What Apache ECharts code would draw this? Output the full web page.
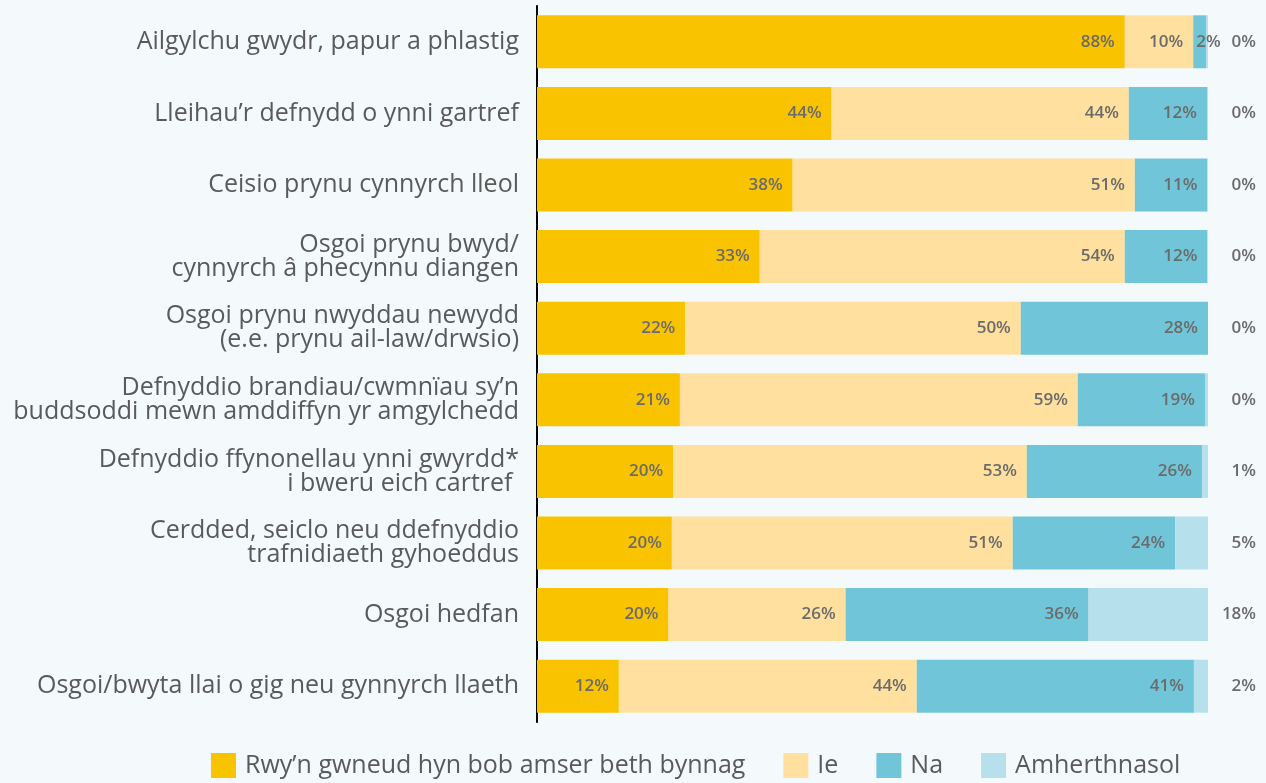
<!DOCTYPE html>
<html>
<head>
<meta charset="utf-8">
<script src="https://cdn.jsdelivr.net/npm/echarts@6/dist/echarts.min.js"></script>
<style>
  html, body { margin: 0; padding: 0; background: #f4f9fc; }
  #chart { width: 1266px; height: 783px; }
</style>
</head>
<body>
<div id="chart"></div>
<script>
const categories = [
  'Ailgylchu gwydr, papur a phlastig',
  'Lleihau’r defnydd o ynni gartref',
  'Ceisio prynu cynnyrch lleol',
  'Osgoi prynu bwyd/\ncynnyrch â phecynnu diangen',
  'Osgoi prynu nwyddau newydd\n(e.e. prynu ail-law/drwsio)',
  'Defnyddio brandiau/cwmnïau sy’n\nbuddsoddi mewn amddiffyn yr amgylchedd',
  'Defnyddio ffynonellau ynni gwyrdd*\ni bweru eich cartref ',
  'Cerdded, seiclo neu ddefnyddio\ntrafnidiaeth gyhoeddus',
  'Osgoi hedfan',
  'Osgoi/bwyta llai o gig neu gynnyrch llaeth'
]
const seriesNames = ['Rwy’n gwneud hyn bob amser beth bynnag', 'Ie', 'Na', 'Amherthnasol']
const always = [87.6, 43.9, 38.1, 33.2, 22.1, 21.3, 20.3, 20.1, 19.6, 12.2]
const yes = [10.2, 44.3, 51.0, 54.4, 50.0, 59.3, 52.7, 50.8, 26.4, 44.4]
const no = [1.9, 11.65, 10.8, 12.3, 27.9, 18.95, 26.1, 24.2, 36.2, 41.3]
const notApplicable = [0.3, 0.15, 0.1, 0.1, 0.1, 0.45, 0.9, 4.9, 17.8, 2.1]
const colors = ['#f9c300', '#ffe09e', '#70c6d8', '#b6e1ec']

const chart = echarts.init(document.getElementById('chart'))

const labelBase = {
  show: true,
  color: '#6b6b6b',
  fontWeight: 600,
  fontSize: 17,
  fontFamily: 'Open Sans',
  formatter: p => Math.round(p.value) + '%'
}

// small segments get their label pushed to the left edge so it stays readable
function makeData(arr) {
  return arr.map(v => v < 4 ? { value: v, label: { position: 'insideLeft', distance: 3 } } : v)
}

const allData = [always, yes, no]
const series = allData.map((arr, i) => ({
  name: seriesNames[i],
  type: 'bar',
  stack: 'total',
  barCategoryGap: '26%',
  itemStyle: { color: colors[i] },
  label: Object.assign({}, labelBase, { position: 'insideRight', distance: 10 }),
  data: makeData(arr)
}))
series.push({
  name: seriesNames[3],
  type: 'bar',
  stack: 'total',
  barCategoryGap: '26%',
  itemStyle: { color: colors[3] },
  label: Object.assign({}, labelBase, { position: 'insideRight', distance: 0, offset: [48, 0] }),
  data: notApplicable
})

chart.setOption({
  backgroundColor: '#f4f9fc',
  animation: false,
  grid: { left: 537, right: 58, top: 6, bottom: 61, containLabel: false },
  legend: {
    bottom: 0,
    left: 206,
    itemWidth: 25,
    itemHeight: 25,
    itemGap: 38,
    icon: 'rect',
    textStyle: { color: '#5a5a5a', fontSize: 25, fontFamily: 'Open Sans', padding: [0, 0, 0, 4] },
    data: seriesNames
  },
  xAxis: {
    type: 'value',
    min: 0,
    max: 100,
    show: false
  },
  yAxis: {
    type: 'category',
    inverse: true,
    data: categories,
    axisLine: { show: true, lineStyle: { color: '#000', width: 2 } },
    axisTick: { show: false },
    axisLabel: {
      color: '#5a5a5a',
      fontSize: 25,
      fontFamily: 'Open Sans',
      lineHeight: 24,
      margin: 18
    }
  },
  series: series
})
</script>
</body>
</html>
